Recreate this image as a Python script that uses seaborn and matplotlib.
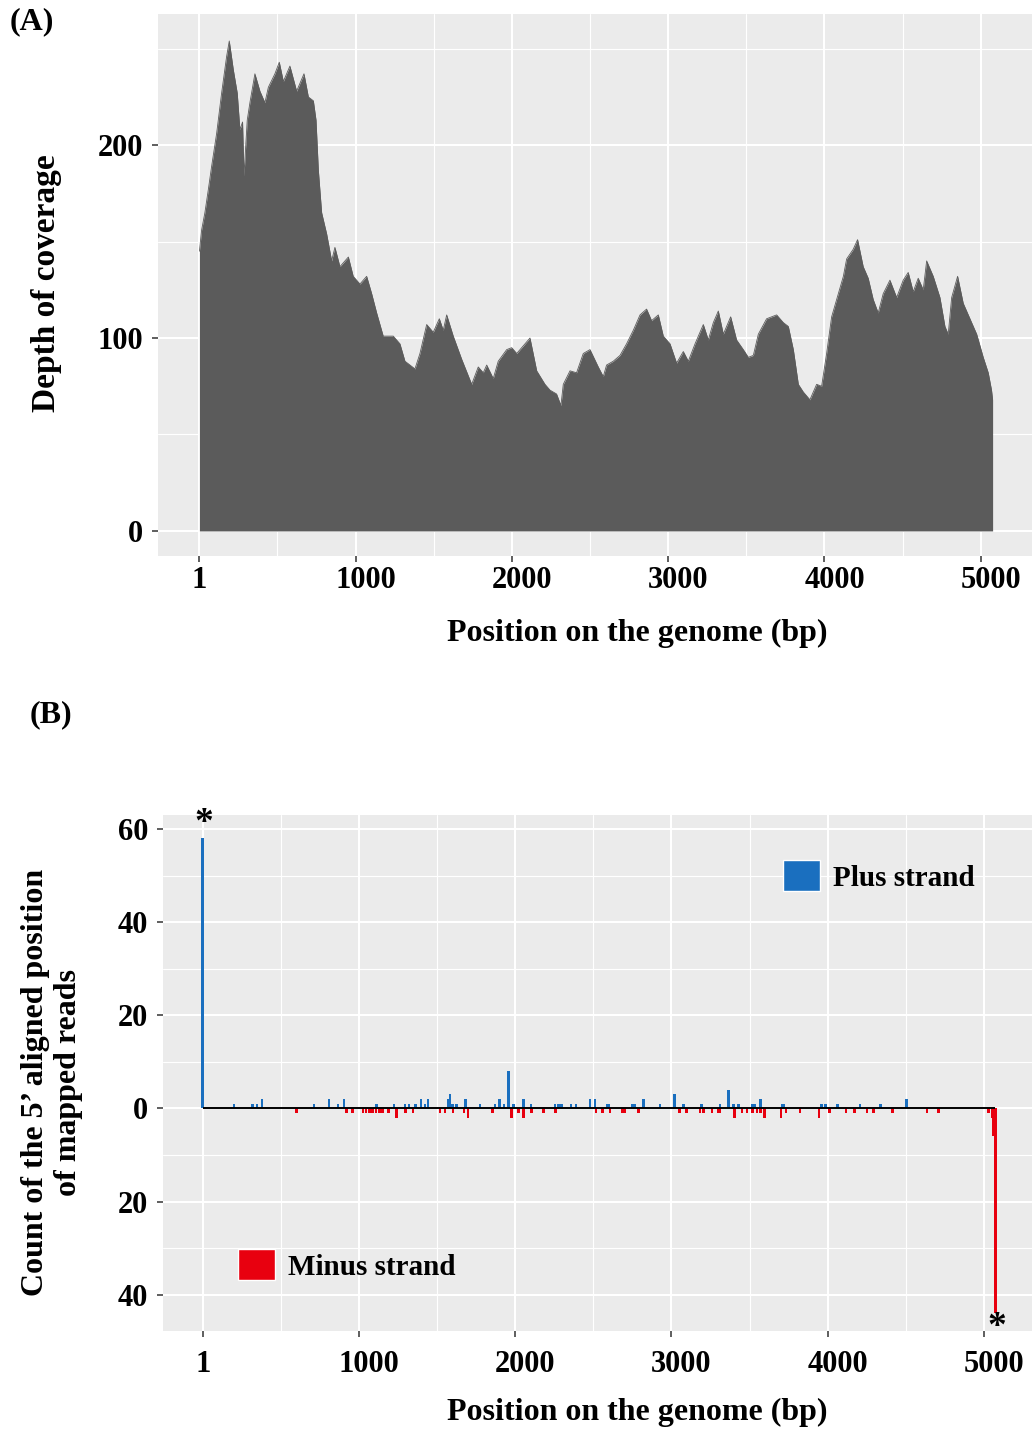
"""Coverage depth (A) and 5' read-end counts per strand (B)."""

import matplotlib
matplotlib.use("Agg")
import matplotlib.pyplot as plt
import matplotlib.transforms as mtransforms
from matplotlib.patches import Patch
from matplotlib.ticker import FixedLocator
import seaborn as sns

# ---- panel A: depth of coverage along the genome ----
cov_pos = [1, 15, 36, 58, 79, 111, 143, 175, 192, 218, 243, 260, 277, 286, 307,
           324, 356, 388, 420, 442, 484, 512, 538, 580, 623, 670, 698, 730, 747,
           762, 783, 815, 847, 868, 900, 954, 985, 1028, 1071, 1103, 1135, 1177,
           1241, 1284, 1316, 1380, 1412, 1455, 1497, 1536, 1561, 1583, 1625, 1679,
           1743, 1785, 1817, 1839, 1881, 1913, 1967, 1999, 2031, 2063, 2116, 2159,
           2212, 2244, 2286, 2314, 2329, 2372, 2414, 2457, 2500, 2553, 2585, 2606,
           2649, 2692, 2734, 2777, 2820, 2862, 2894, 2937, 2969, 3012, 3054, 3097,
           3129, 3172, 3225, 3257, 3289, 3321, 3353, 3400, 3438, 3481, 3513, 3545,
           3577, 3630, 3694, 3737, 3769, 3801, 3833, 3865, 3907, 3950, 3982, 4014,
           4046, 4078, 4121, 4142, 4184, 4212, 4248, 4280, 4312, 4344, 4376, 4419,
           4462, 4504, 4536, 4568, 4600, 4632, 4654, 4696, 4739, 4771, 4792, 4814,
           4852, 4888, 4931, 4974, 5016, 5048, 5069, 5076]
cov_depth = [145, 156, 165, 177, 189, 206, 227, 246, 254, 239, 227, 208, 212, 184,
             213, 222, 237, 228, 222, 230, 237, 243, 233, 241, 228, 237, 225, 223,
             213, 187, 165, 154, 140, 147, 137, 142, 132, 128, 132, 123, 113, 101,
             101, 97, 88, 84, 92, 107, 103, 110, 104, 112, 101, 89, 76, 85, 82, 86,
             79, 88, 94, 95, 92, 95, 100, 83, 76, 73, 71, 65, 76, 83, 82, 92, 94,
             85, 80, 86, 88, 91, 97, 104, 112, 115, 109, 112, 101, 97, 87, 93, 88,
             97, 107, 99, 108, 114, 102, 111, 99, 94, 90, 91, 102, 110, 112, 108,
             106, 94, 76, 72, 68, 76, 75, 92, 111, 120, 132, 141, 146, 151, 137,
             131, 120, 113, 123, 130, 121, 130, 134, 124, 131, 125, 140, 132, 121,
             106, 102, 121, 132, 118, 110, 102, 90, 82, 73, 68]

# ---- panel B: 5' aligned positions of mapped reads ----
plus_pos = [1, 200, 320, 350, 381, 714, 810, 868, 904, 1113, 1226, 1295, 1322,
            1363, 1397, 1423, 1444, 1575, 1583, 1600, 1626, 1681, 1775, 1871, 1899,
            1929, 1958, 1988, 2055, 2100, 2255, 2276, 2298, 2357, 2389, 2479, 2511,
            2590, 2602, 2752, 2766, 2820, 2927, 3019, 3076, 3194, 3311, 3364, 3396,
            3428, 3518, 3533, 3571, 3706, 3720, 3961, 3987, 4061, 4206, 4339, 4505]
plus_count = [58, 1, 1, 1, 2, 1, 2, 1, 2, 1, 1, 1, 1, 1, 2, 1, 2, 2, 3, 1, 1, 2, 1,
              1, 2, 1, 8, 1, 2, 1, 1, 1, 1, 1, 1, 2, 2, 1, 1, 1, 1, 2, 1, 3, 1, 1, 1,
              4, 1, 1, 1, 1, 2, 1, 1, 1, 1, 1, 1, 1, 2]
minus_pos = [602, 922, 960, 1028, 1045, 1067, 1088, 1109, 1131, 1152, 1191, 1242,
             1299, 1348, 1519, 1551, 1604, 1673, 1700, 1854, 1978, 2020, 2052, 2106,
             2180, 2259, 2517, 2560, 2607, 2686, 2699, 2789, 3051, 3098, 3183, 3205,
             3258, 3300, 3311, 3403, 3450, 3482, 3518, 3546, 3571, 3595, 3702, 3732,
             3823, 3943, 4011, 4118, 4170, 4251, 4294, 4413, 4635, 4709, 5029, 5050,
             5061, 5073]
minus_count = [1, 1, 1, 1, 1, 1, 1, 1, 1, 1, 1, 2, 1, 1, 1, 1, 1, 1, 2, 1, 2, 1, 2,
               1, 1, 1, 1, 1, 1, 1, 1, 1, 1, 1, 1, 1, 1, 1, 1, 2, 1, 1, 1, 1, 1, 2, 2,
               1, 1, 2, 1, 1, 1, 1, 1, 1, 1, 1, 1, 2, 6, 44]

x_ticks = [1, 1000, 2000, 3000, 4000, 5000]
x_minor = [500, 1500, 2500, 3500, 4500]

GREY = "#5b5b5b"
BLUE = "#1a6fbf"
RED = "#e8000f"
BG = "#ebebeb"
W, H = 1032, 1432
TICK_FS = 22

sns.set_theme(style="darkgrid")
plt.rcParams["font.family"] = ["Liberation Serif", "DejaVu Serif"]
plt.rcParams["font.weight"] = "bold"
plt.rcParams["text.color"] = "black"

fig = plt.figure(figsize=(W / 100, H / 100), dpi=100)
fig.patch.set_facecolor("white")


def px_box(left, top, right, bottom):
    return [left / W, 1 - bottom / H, (right - left) / W, (bottom - top) / H]


def style_axes(ax, yticks, ylabels, yminor, xpad):
    ax.set_facecolor(BG)
    ax.set_xticks(x_ticks)
    ax.set_xticklabels([str(t) for t in x_ticks])
    ax.xaxis.set_minor_locator(FixedLocator(x_minor))
    ax.set_yticks(yticks)
    ax.set_yticklabels(ylabels)
    ax.yaxis.set_minor_locator(FixedLocator(yminor))
    ax.grid(which="major", color="white", linewidth=1.5)
    ax.grid(which="minor", color="white", linewidth=0.8)
    ax.tick_params(which="major", bottom=True, left=True, length=4.5, width=1.1,
                   color="#333333", labelsize=TICK_FS, labelcolor="black")
    ax.tick_params(axis="x", which="major", pad=xpad)
    ax.tick_params(axis="y", which="major", pad=6)
    ax.tick_params(which="minor", length=0)
    for s in ax.spines.values():
        s.set_visible(False)
    ax.set_axisbelow(True)
    ax.set_xlabel("")
    ax.set_ylabel("")
    # the thousands labels sit a little right of their ticks in the original
    shift = mtransforms.ScaledTranslation(0.10, 0, fig.dpi_scale_trans)
    for lab in ax.get_xticklabels()[1:]:
        lab.set_transform(lab.get_transform() + shift)


# ---------------- (A) ----------------
ax1 = fig.add_axes(px_box(158, 14, 1032, 556))
sns.lineplot(x=cov_pos, y=cov_depth, ax=ax1, color=GREY, linewidth=0.6)
ax1.fill_between(cov_pos, cov_depth, color=GREY, linewidth=0)
ax1.set_xlim(-264, 5328)
ax1.set_ylim(-13, 268)
style_axes(ax1, [0, 100, 200], ["0", "100", "200"], [50, 150, 250], xpad=2.5)

# ---------------- (B) ----------------
ax2 = fig.add_axes(px_box(163, 815, 1032, 1331))
ax2.bar(plus_pos, plus_count, width=16, color=BLUE, linewidth=0)
ax2.bar(minus_pos, [-c for c in minus_count], width=16, color=RED, linewidth=0)
ax2.hlines(0, plus_pos[0], minus_pos[-1], color="black", linewidth=1.4, zorder=3)
ax2.set_xlim(-253, 5307)
ax2.set_ylim(-47.8, 63.0)
style_axes(ax2, [-40, -20, 0, 20, 40, 60], ["40", "20", "0", "20", "40", "60"],
           [-30, -10, 10, 30, 50], xpad=9)

top_i = plus_count.index(max(plus_count))
ax2.annotate("*", xy=(plus_pos[top_i], plus_count[top_i]), xytext=(1, 4),
             textcoords="offset points", ha="center", va="baseline", fontsize=27)
bot_i = minus_count.index(max(minus_count))
ax2.annotate("*", xy=(minus_pos[bot_i], -minus_count[bot_i]), xytext=(1, -17),
             textcoords="offset points", ha="center", va="baseline", fontsize=27)

leg_kw = dict(loc="center left", frameon=False, fontsize=21, handlelength=1.27,
              handleheight=1.27, handletextpad=0.45, borderpad=0, borderaxespad=0,
              labelcolor="black")
leg_plus = ax2.legend(handles=[Patch(facecolor=BLUE, label="Plus strand")],
                      bbox_to_anchor=(0.7135, 0.882), **leg_kw)
ax2.add_artist(leg_plus)
ax2.legend(handles=[Patch(facecolor=RED, label="Minus strand")],
           bbox_to_anchor=(0.0863, 0.128), **leg_kw)


# ---------------- titles and panel letters ----------------
def fig_text(x, y, s, size, **kw):
    fig.text(x / W, 1 - y / H, s, ha="center", va="center", fontsize=size,
             fontweight="bold", color="black", **kw)


fig_text(32, 22, "(A)", 23)
fig_text(51, 715, "(B)", 23)
fig_text(47, 283, "Depth of coverage", 24, rotation=90)
fig_text(637, 633, "Position on the genome (bp)", 23)
fig_text(52, 1082, "Count of the 5\u2019 aligned position\nof mapped reads", 23,
         rotation=90, linespacing=1.2)
fig_text(637, 1412, "Position on the genome (bp)", 23)

fig.savefig("out.png", dpi=100)
